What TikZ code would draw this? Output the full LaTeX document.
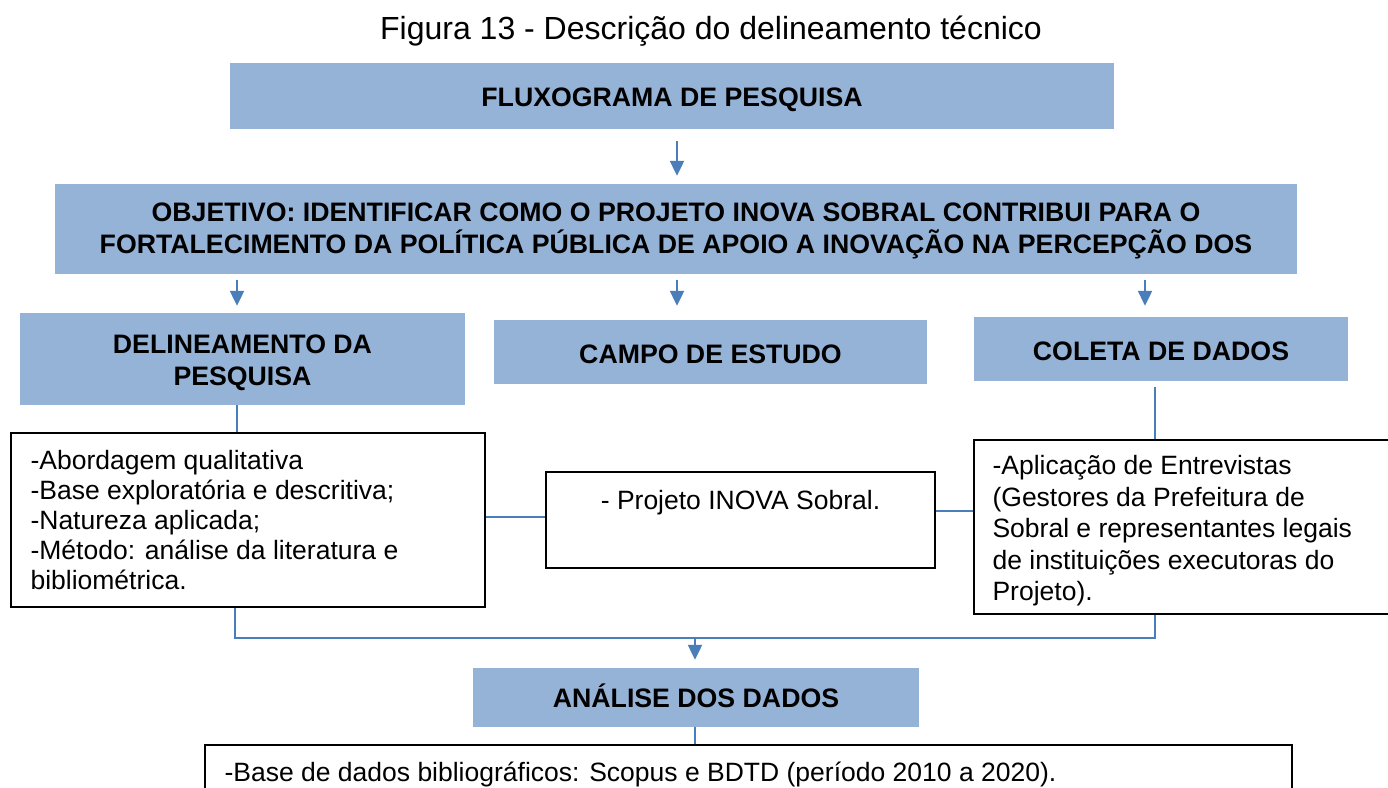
\documentclass[tikz,border=0pt]{standalone}
\usepackage{fontspec}
\setmainfont{Liberation Sans}
\usetikzlibrary{arrows.meta}
\definecolor{boxblue}{HTML}{95B3D7}
\definecolor{linkblue}{HTML}{4A7EBB}
\begin{document}
\begin{tikzpicture}[x=1pt,y=-1pt,
  hdr/.style={fill=boxblue, inner sep=0pt},
  hdrtxt/.style={font=\fontsize{26.7}{32}\selectfont\bfseries, align=center, inner sep=0pt},
  txtbox/.style={draw=black, line width=1.3pt, fill=white, inner sep=0pt},
  conn/.style={draw=linkblue, line width=2.2pt},
  arr/.style={conn, -{Triangle[width=14pt,length=15pt]}},
  body/.style={font=\fontsize{26.5}{30}\selectfont, align=left, inner sep=0pt},
  bodytb/.style={font=\fontsize{26.5}{31.5}\selectfont, align=left, inner sep=0pt}]
\useasboundingbox (0,0) rectangle (1388,787);
\clip (0,0) rectangle (1388,787);
\fill[white] (0,0) rectangle (1388,787);

% title
\node[font=\fontsize{32}{36}\selectfont, inner sep=0pt] (title) at (711,31) {Figura 13 - Descrição do delineamento técnico};

% header boxes
\node[hdr, minimum width=884pt, minimum height=66pt,
  label={[hdrtxt, yshift=-4pt]center:FLUXOGRAMA DE PESQUISA}] (flux) at (672,96) {};
\node[hdr, minimum width=1242pt, minimum height=90pt,
  label={[hdrtxt, yshift=-2pt]center:{OBJETIVO: IDENTIFICAR COMO O PROJETO INOVA SOBRAL CONTRIBUI PARA O\\FORTALECIMENTO DA POLÍTICA PÚBLICA DE APOIO A INOVAÇÃO NA PERCEPÇÃO DOS}}] (obj) at (676,229) {};
\node[hdr, minimum width=445pt, minimum height=92pt,
  label={[hdrtxt, yshift=-4pt]center:{DELINEAMENTO DA\\PESQUISA}}] (del) at (242.5,359) {};
\node[hdr, minimum width=433pt, minimum height=64pt,
  label={[hdrtxt, yshift=-2pt]center:CAMPO DE ESTUDO}] (campo) at (710.5,352) {};
\node[hdr, minimum width=374pt, minimum height=64pt,
  label={[hdrtxt, yshift=-2pt]center:COLETA DE DADOS}] (coleta) at (1161,349) {};
\node[hdr, minimum width=446pt, minimum height=59pt,
  label={[hdrtxt, yshift=2pt]center:ANÁLISE DOS DADOS}] (ana) at (696,697.5) {};

% text boxes
\node[txtbox, minimum width=474pt, minimum height=174pt,
  label={[body, anchor=north west, xshift=20pt, yshift=-18pt]north west:{-Abordagem qualitativa\\-Base exploratória e descritiva;\\-Natureza aplicada;\\-Método: análise da literatura e\\bibliométrica.}}] (t1) at (248,520) {};
\node[txtbox, minimum width=389pt, minimum height=96pt,
  label={[body, anchor=north, yshift=-19pt]north:{- Projeto INOVA Sobral.}}] (t2) at (740.5,520) {};
\node[txtbox, minimum width=426pt, minimum height=174pt,
  label={[bodytb, anchor=north west, xshift=19pt, yshift=-16pt]north west:{-Aplicação de Entrevistas\\(Gestores da Prefeitura de\\Sobral e representantes legais\\de instituições executoras do\\Projeto).}}] (t3) at (1187,527) {};
\node[txtbox, minimum width=1087pt, minimum height=60pt,
  label={[body, anchor=north west, xshift=20pt, yshift=-17pt]north west:{-Base de dados bibliográficos: Scopus e BDTD (período 2010 a 2020).}}] (t4) at (748.5,775) {};

% column coordinates
\coordinate (xa) at (237,0);
\coordinate (xb) at (677,0);
\coordinate (xc) at (1145,0);
\coordinate (xd) at (1155,0);
\coordinate (xe) at (235,0);
\coordinate (ya) at (0,517);
\coordinate (yb) at (0,511);
\coordinate (m) at (695,638);

% arrows
\draw[arr, shorten <=12pt, shorten >=8pt] (flux.south -| xb) -- (obj.north -| xb);
\draw[arr, shorten <=6pt, shorten >=7pt] (obj.south -| xa) -- (del.north -| xa);
\draw[arr, shorten <=6pt, shorten >=14pt] (obj.south -| xb) -- (campo.north -| xb);
\draw[arr, shorten <=6pt, shorten >=11pt] (obj.south -| xc) -- (coleta.north -| xc);

% connectors
\draw[conn] (del.south -| xa) -- (t1.north -| xa);
\draw[conn, shorten <=6pt] (coleta.south -| xd) -- (t3.north -| xd);
\draw[conn] (t1.east |- ya) -- (t2.west |- ya);
\draw[conn] (t2.east |- yb) -- (t3.west |- yb);
\draw[conn] (t1.south -| xe) |- (m) -| (t3.south -| xd);
\draw[arr, shorten >=8pt] (m) -- (ana.north -| m);
\draw[conn] (ana.south -| m) -- (t4.north -| m);
\end{tikzpicture}
\end{document}
